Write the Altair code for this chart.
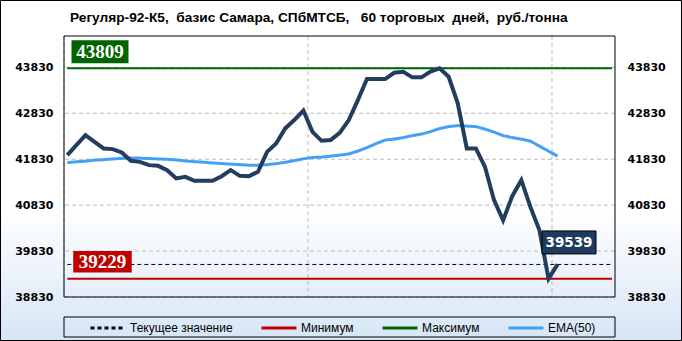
import altair as alt
import pandas as pd

W, H = 551, 261
PAD = {"left": 64, "top": 36, "right": 67, "bottom": 44}

title_text = "Регуляр-92-К5,\u00a0 базис Самара, СПбМТСБ,\u00a0\u00a0 60 торговых\u00a0 дней,\u00a0 руб./тонна"

price = [41919, 42137, 42355, 42209, 42065, 42050, 41978, 41795, 41773, 41701,
         41686, 41592, 41411, 41446, 41359, 41359, 41359, 41461, 41592, 41468,
         41461, 41555, 41991, 42174, 42501, 42682, 42889, 42427, 42231, 42246,
         42405, 42682, 43118, 43576, 43576, 43576, 43713, 43735, 43613, 43613,
         43739, 43809, 43626, 43046, 42065, 42065, 41664, 40938, 40502, 41025,
         41374, 40792, 40284, 39229, 39539]
ema = [41756, 41773, 41788, 41810, 41821, 41836, 41849, 41856, 41854, 41845,
       41836, 41828, 41814, 41793, 41777, 41766, 41749, 41736, 41723, 41712,
       41701, 41701, 41712, 41734, 41762, 41799, 41838, 41869, 41875, 41897,
       41919, 41945, 42006, 42083, 42170, 42246, 42268, 42301, 42344, 42377,
       42431, 42497, 42540, 42562, 42551, 42540, 42486, 42420, 42344, 42301,
       42268, 42224, 42115, 42006, 41897]
days = list(range(len(price)))

x_domain = [-0.363, 60.32]
x_tick_values = [-0.363, 26.51, 53.38]
x_tick_labels = ["09.10.2017", "15.11.2017", "22.12.2017"]
y_domain = [38830, 44513]
y_tick_values = [38830, 39830, 40830, 41830, 42830, 43830]

series_names = ["Текущее значение", "Минимум", "Максимум", "EMA(50)"]
series_colors = ["#000000", "#c00000", "#006400", "#44a0f4"]
series_dash = [[4, 3], [1, 0], [1, 0], [1, 0]]

current_value = price[-1]
min_value = min(price)
max_value = max(price)
level_start, level_end = 0, 60

AXIS_FONT = "DejaVu Sans"
NAVY = "#233d5f"

df_price = pd.DataFrame({"day": days, "value": price})
df_ema = pd.DataFrame({"day": days, "value": ema, "series": "EMA(50)"})
df_cur = pd.DataFrame({"series": [series_names[0]], "value": [current_value],
                       "start": [level_start], "end": [level_end]})
df_minmax = pd.DataFrame({"series": series_names[1:3], "value": [min_value, max_value],
                          "start": [level_start] * 2, "end": [level_end] * 2})
df_ygrid = pd.DataFrame({"value": y_tick_values})
df_xgrid = pd.DataFrame({"day": x_tick_values})
one = pd.DataFrame({"a": [0]})

xscale = alt.Scale(domain=x_domain, nice=False, zero=False)
yscale = alt.Scale(domain=y_domain, nice=False, zero=False)

label_expr = "".join(
    f"abs(datum.value - ({v})) < 0.05 ? '{l}' : " for v, l in zip(x_tick_values, x_tick_labels)
) + "''"

legend = alt.Legend(orient="none", legendX=25, legendY=273, direction="horizontal",
                    title=None, symbolType="stroke", symbolSize=1225, symbolStrokeWidth=3,
                    labelFont="Liberation Sans", labelFontSize=12, labelColor="black",
                    labelOffset=3, columnPadding=22, padding=0, zindex=1)
color_enc = alt.Color("series:N", scale=alt.Scale(domain=series_names, range=series_colors),
                      legend=legend)
dash_enc = alt.StrokeDash("series:N", scale=alt.Scale(domain=series_names, range=series_dash),
                          legend=legend)

grad = alt.LinearGradient(
    gradient="linear",
    stops=[alt.GradientStop(color="#ffffff", offset=0),
           alt.GradientStop(color="#ffffff", offset=0.62),
           alt.GradientStop(color="#d6e5f6", offset=1)],
    x1=0, x2=0, y1=0, y2=1)

bg = alt.Chart(one).mark_rect(fill=grad, stroke="black", strokeWidth=1).encode(
    x=alt.value(-PAD["left"] + 0.5), x2=alt.value(W + PAD["right"] - 0.5),
    y=alt.value(-PAD["top"] + 0.5), y2=alt.value(H + PAD["bottom"] - 0.5))

ygrid = alt.Chart(df_ygrid).mark_rule(color="#bdbdbd", strokeDash=[4, 3], strokeWidth=1).encode(
    y=alt.Y("value:Q", scale=yscale, axis=None))
xgrid = alt.Chart(df_xgrid).mark_rule(color="#bdbdbd", strokeDash=[4, 3], strokeWidth=1).encode(
    x=alt.X("day:Q", scale=xscale, axis=None))

frame = alt.Chart(one).mark_rect(fill="transparent", stroke="black", strokeWidth=1).encode(
    x=alt.value(0), x2=alt.value(W), y=alt.value(0), y2=alt.value(H))

legend_box = alt.Chart(one).mark_rect(fill="transparent", stroke="black", strokeWidth=1).encode(
    x=alt.value(0), x2=alt.value(W), y=alt.value(H + 20), y2=alt.value(H + 40))

axis_common = dict(values=y_tick_values, format="d", grid=False, domain=False, ticks=False,
                   labelFont=AXIS_FONT, labelFontSize=11, labelFontWeight="bold",
                   labelColor="black", title=None, zindex=1)
left_axis = alt.Axis(orient="left", labelPadding=11, **axis_common)
right_axis = alt.Axis(orient="right", labelPadding=12, **axis_common)
x_axis = alt.Axis(values=x_tick_values, labelExpr=label_expr, grid=False, domain=False,
                  ticks=False, labelPadding=6, labelOffset=4, labelFont=AXIS_FONT,
                  labelFontSize=10, labelFontWeight="bold", labelColor="black", title=None,
                  labelFlush=False, labelOverlap=False, zindex=1)

cur_rule = alt.Chart(df_cur).mark_rule(strokeWidth=1).encode(
    x=alt.X("start:Q", scale=xscale, axis=None), x2="end:Q",
    y=alt.Y("value:Q", scale=yscale, axis=None), color=color_enc, strokeDash=dash_enc)
mm_rules = alt.Chart(df_minmax).mark_rule(strokeWidth=2).encode(
    x=alt.X("start:Q", scale=xscale, axis=None), x2="end:Q",
    y=alt.Y("value:Q", scale=yscale, axis=None), color=color_enc, strokeDash=dash_enc)

ema_line = alt.Chart(df_ema).mark_line(strokeWidth=3).encode(
    x=alt.X("day:Q", scale=xscale, axis=None),
    y=alt.Y("value:Q", scale=yscale, axis=right_axis),
    color=color_enc, strokeDash=dash_enc)

price_line = alt.Chart(df_price).mark_line(color=NAVY, strokeWidth=4).encode(
    x=alt.X("day:Q", scale=xscale, axis=x_axis),
    y=alt.Y("value:Q", scale=yscale, axis=left_axis))


def value_box(day, value, fill, dx, dy, w, h, font, fsize, stroke=None):
    df = pd.DataFrame({"day": [day], "value": [value], "label": [str(value)]})
    r = h / w
    shape = f"M-1,{-r:.4f}H1V{r:.4f}H-1Z"
    enc = dict(x=alt.X("day:Q", scale=xscale, axis=None),
               y=alt.Y("value:Q", scale=yscale, axis=None))
    box = alt.Chart(df).mark_point(shape=shape, size=w * w, filled=True, fill=fill, opacity=1,
                                   stroke=stroke if stroke else fill,
                                   strokeWidth=1 if stroke else 0,
                                   xOffset=dx, yOffset=dy).encode(**enc)
    txt = alt.Chart(df).mark_text(dx=dx, dy=dy + 0.5, align="center", baseline="middle",
                                  font=font, fontSize=fsize, fontWeight="bold",
                                  color="white").encode(text="label:N", **enc)
    return [box, txt]


boxes = []
boxes += value_box(0, max_value, "#006400", 32.7, -16.6, 57, 23, "Liberation Serif", 19)
boxes += value_box(0, min_value, "#c00000", 35.2, -16.9, 58.5, 21.5, "Liberation Serif", 19)
boxes += value_box(days[-1], current_value, "#1f3a5f", 11.4, -22, 54, 23, AXIS_FONT, 13.5,
                   stroke="black")

title = alt.Chart(one).mark_text(text=title_text, align="left", baseline="middle",
                                 font="Liberation Sans", fontSize=13.7, fontWeight="bold",
                                 color="black").encode(x=alt.value(6), y=alt.value(-18.5))

chart = alt.layer(bg, ygrid, xgrid, frame, legend_box, cur_rule, mm_rules, ema_line,
                  price_line, *boxes, title).resolve_axis(y="independent").properties(
    width=W, height=H, padding=PAD, autosize=alt.AutoSizeParams(type="none"),
    background="white"
).configure_view(stroke=None)

chart.save("out.html", embed_options={"renderer": "svg", "actions": False})
